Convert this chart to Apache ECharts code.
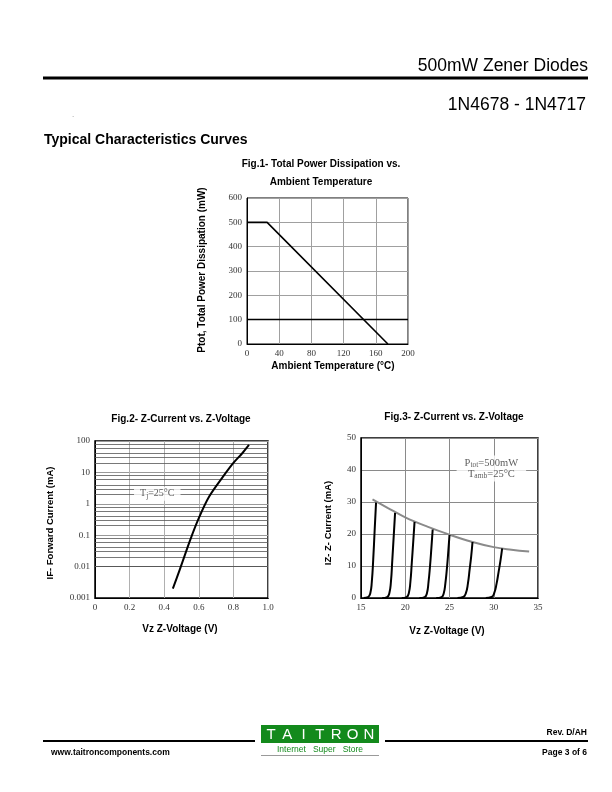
<!DOCTYPE html>
<html><head><meta charset="utf-8">
<script src="https://cdn.jsdelivr.net/npm/echarts@6/dist/echarts.min.js"></script>
<style>html,body{margin:0;padding:0;background:#fff}#c{width:612px;height:792px}</style>
</head><body><div id="c"></div>
<script>
// ---------- Fig.1 data ----------
const fig1Temp = [0, 25, 175];
const fig1Power = [500, 500, 0];
const fig1Limit = [100];
const fig1XTicks = ['0', '40', '80', '120', '160', '200'];
const fig1YTicks = ['0', '100', '200', '300', '400', '500', '600'];
// ---------- Fig.2 data ----------
const fig2Voltage = [0.45, 0.49, 0.55, 0.60, 0.66, 0.74, 0.80, 0.85, 0.89];
const fig2Current = [0.002, 0.008, 0.07, 0.35, 1.7, 7.3, 20, 40, 75];
const fig2XTicks = ['0', '0.2', '0.4', '0.6', '0.8', '1.0'];
const fig2YTicks = ['0.001', '0.01', '0.1', '1', '10', '100'];
const fig2Decades = [0.001, 0.01, 0.1, 1, 10];
const fig2MinorSteps = [2, 3, 4, 6, 8];
const fig2Note = [0.36, 2.1];
// ---------- Fig.3 data ----------
const fig3EnvV = [16.3, 18, 20, 22.5, 25, 27.5, 30, 32, 34];
const fig3EnvI = [30.8, 28.2, 25.2, 22.3, 19.8, 17.6, 15.9, 15.1, 14.5];
const fig3CurveV = [
  [15.3, 15.8, 16.05, 16.22, 16.38, 16.54, 16.7],
  [17.4, 17.95, 18.2, 18.38, 18.54, 18.7, 18.85],
  [19.6, 20.15, 20.4, 20.58, 20.74, 20.9, 21.05],
  [21.6, 22.2, 22.45, 22.63, 22.8, 22.95, 23.1],
  [23.5, 24.1, 24.35, 24.53, 24.7, 24.85, 25.0],
  [25.9, 26.55, 26.85, 27.08, 27.28, 27.45, 27.6],
  [29.1, 29.75, 30.05, 30.32, 30.54, 30.75, 30.95]
];
const fig3CurveI = [
  [0, 0.3, 1.5, 5, 12, 21, 29.8],
  [0, 0.3, 1.5, 5, 12, 19.5, 26.6],
  [0, 0.3, 1.5, 5, 11, 17.5, 23.8],
  [0, 0.3, 1.5, 5, 10, 15.5, 21.4],
  [0, 0.3, 1.5, 4.5, 9, 14, 19.7],
  [0, 0.3, 1.5, 4.5, 9, 13, 17.5],
  [0, 0.3, 1.5, 4.5, 8, 11.5, 15.5]
];
const fig3XTicks = ['15', '20', '25', '30', '35'];
const fig3YTicks = ['0', '10', '20', '30', '40', '50'];
const fig3Note = [29.73, 40.5];

const zip = (a, b) => a.map((v, i) => [v, b[i]]);
const SANS = 'Liberation Sans';
const SERIF = 'Liberation Serif';

function axisLabel(ticks, margin) {
  return { fontFamily: SERIF, fontSize: 9, color: '#333', margin: margin,
           formatter: (v, i) => ticks[i] };
}
function valueAxis(grid, min, max, interval, ticks, splitColor) {
  return {
    gridIndex: grid, type: 'value', min: min, max: max, interval: interval,
    axisLine: { show: true, lineStyle: { color: '#000', width: 1 } },
    axisTick: { show: false },
    splitLine: { show: true, lineStyle: { color: splitColor, width: 1 } },
    axisLabel: axisLabel(ticks, 5)
  };
}

const minorLines = [];
fig2Decades.forEach(d => fig2MinorSteps.forEach(s => minorLines.push({ yAxis: d * s })));

const series = [];
// Fig.1
series.push({
  type: 'line', xAxisIndex: 0, yAxisIndex: 0, data: zip(fig1Temp, fig1Power),
  symbol: 'none', lineStyle: { color: '#000', width: 1.6 }, z: 5,
  markLine: { silent: true, symbol: ['none', 'none'], label: { show: false },
    lineStyle: { color: '#000', type: 'solid', width: 1.3 },
    data: fig1Limit.map(v => ({ yAxis: v })) }
});
// Fig.2
series.push({
  type: 'line', xAxisIndex: 1, yAxisIndex: 1, data: zip(fig2Voltage, fig2Current),
  symbol: 'none', smooth: 0.3, lineStyle: { color: '#000', width: 2 }, z: 5,
  markLine: { silent: true, symbol: ['none', 'none'], label: { show: false },
    lineStyle: { color: '#555', type: 'solid', width: 0.8 }, z: 1,
    data: minorLines }
});
series.push({
  type: 'scatter', xAxisIndex: 1, yAxisIndex: 1, data: [fig2Note],
  symbolSize: 1, itemStyle: { color: 'rgba(0,0,0,0)' }, z: 10, silent: true,
  label: { show: true, position: 'inside', backgroundColor: '#fff', padding: [1, 6, 1, 6],
    formatter: 'T{s|j}{a|=25°C}',
    fontFamily: SERIF, fontSize: 10, color: '#333',
    rich: { a: { fontFamily: SERIF, fontSize: 10, color: '#333' },
            s: { fontFamily: SERIF, fontSize: 7.5, color: '#333', padding: [4, 0, 0, 0] } } }
});
// Fig.3
series.push({
  type: 'line', xAxisIndex: 2, yAxisIndex: 2, data: zip(fig3EnvV, fig3EnvI),
  symbol: 'none', smooth: 0.4, lineStyle: { color: '#8a8a8a', width: 2 }, z: 4
});
fig3CurveV.forEach((vs, k) => {
  series.push({
    type: 'line', xAxisIndex: 2, yAxisIndex: 2, data: zip(vs, fig3CurveI[k]),
    symbol: 'none', smooth: 0.5, lineStyle: { color: '#000', width: 2 }, z: 5
  });
});
series.push({
  type: 'scatter', xAxisIndex: 2, yAxisIndex: 2, data: [fig3Note],
  symbolSize: 1, itemStyle: { color: 'rgba(0,0,0,0)' }, z: 10, silent: true,
  label: { show: true, position: 'inside', backgroundColor: '#fff', padding: [2, 8, 2, 8],
    formatter: '{a|P}{s|tot}{a|=500mW}\n{a|T}{s|amb}{a|=25°C}',
    lineHeight: 11,
    rich: { a: { fontFamily: SERIF, fontSize: 10.5, color: '#333', lineHeight: 11 },
            s: { fontFamily: SERIF, fontSize: 7.5, color: '#333', padding: [4, 0, 0, 0], lineHeight: 11 } } }
});

function txt(x, y, text, size, weight, opts) {
  return Object.assign({ type: 'text', x: x, y: y, silent: true,
    style: { text: text, fontFamily: SANS, fontSize: size, fontWeight: weight || 'normal',
             fill: '#000', align: 'center', verticalAlign: 'middle' } }, opts || {});
}
function hline(x1, x2, y, w, color) {
  return { type: 'line', silent: true, shape: { x1: x1, y1: y, x2: x2, y2: y },
           style: { stroke: color || '#000', lineWidth: w } };
}
function alignRight(el) { el.style.align = 'right'; return el; }
function alignLeft(el) { el.style.align = 'left'; return el; }

const logoLetters = ['T', 'A', 'I', 'T', 'R', 'O', 'N'];
const graphics = [
  alignRight(txt(588, 66, '500mW Zener Diodes', 17.5)),
  hline(43, 588, 78, 3),
  alignRight(txt(586, 105, '1N4678 - 1N4717', 17.5)),
  txt(73, 115, '.', 6),
  alignLeft(txt(44, 140, 'Typical Characteristics Curves', 14, 'bold')),
  // Fig.1 texts
  txt(321, 164, 'Fig.1- Total Power Dissipation vs.', 10, 'bold'),
  txt(321, 182, 'Ambient Temperature', 10, 'bold'),
  txt(333, 366, 'Ambient Temperature (°C)', 10, 'bold'),
  txt(202, 270, 'Ptot, Total Power Dissipation (mW)', 10, 'bold', { rotation: Math.PI / 2 }),
  // Fig.2 texts
  txt(181, 419, 'Fig.2- Z-Current vs. Z-Voltage', 10, 'bold'),
  txt(180, 629, 'Vz Z-Voltage (V)', 10, 'bold'),
  txt(50, 523, 'IF- Forward Current (mA)', 9.5, 'bold', { rotation: Math.PI / 2 }),
  // Fig.3 texts
  txt(454, 417, 'Fig.3- Z-Current vs. Z-Voltage', 10, 'bold'),
  txt(447, 631, 'Vz Z-Voltage (V)', 10, 'bold'),
  txt(328, 523, 'IZ- Z- Current (mA)', 9.5, 'bold', { rotation: Math.PI / 2 }),
  // footer
  hline(43, 255, 741, 2.2),
  hline(385, 588, 741, 2.2),
  alignRight(txt(587, 733, 'Rev. D/AH', 8.5, 'bold')),
  alignLeft(txt(51, 753, 'www.taitroncomponents.com', 8.5, 'bold')),
  alignRight(txt(587, 753, 'Page 3 of 6', 8.5, 'bold')),
  { type: 'rect', silent: true, shape: { x: 261, y: 725, width: 118, height: 18 }, style: { fill: '#138a1c' } },
  hline(261, 379, 755.5, 1, '#9a9a9a'),
  txt(320, 749.5, 'Internet   Super   Store', 8.5, 'normal', { style: { text: 'Internet   Super   Store', fontFamily: SANS, fontSize: 8.5, fill: '#138a1c', align: 'center', verticalAlign: 'middle' } })
];
logoLetters.forEach((ch, i) => {
  graphics.push(txt(271 + i * 16.3, 734.5, ch, 15, 'normal', { style: { text: ch, fontFamily: SANS, fontSize: 15, fill: '#fff', align: 'center', verticalAlign: 'middle' } }));
});

const chart = echarts.init(document.getElementById('c'), null, { renderer: 'canvas' });
chart.setOption({
  animation: false,
  backgroundColor: '#fff',
  grid: [
    { left: 247, top: 198, width: 161, height: 146, show: true, borderColor: '#000', borderWidth: 1, backgroundColor: '#fff' },
    { left: 95, top: 441, width: 173, height: 157, show: true, borderColor: '#000', borderWidth: 1.5, backgroundColor: '#fff' },
    { left: 361, top: 438, width: 177, height: 160, show: true, borderColor: '#000', borderWidth: 1.5, backgroundColor: '#fff' }
  ],
  xAxis: [
    valueAxis(0, 0, 200, 40, fig1XTicks, '#a0a0a0'),
    valueAxis(1, 0, 1, 0.2, fig2XTicks, '#b0b0b0'),
    valueAxis(2, 15, 35, 5, fig3XTicks, '#8a8a8a')
  ],
  yAxis: [
    valueAxis(0, 0, 600, 100, fig1YTicks, '#a0a0a0'),
    { gridIndex: 1, type: 'log', logBase: 10, min: 0.001, max: 100,
      axisLine: { show: true, lineStyle: { color: '#000', width: 1 } },
      axisTick: { show: false },
      splitLine: { show: true, lineStyle: { color: '#999', width: 1 } },
      axisLabel: axisLabel(fig2YTicks, 5) },
    valueAxis(2, 0, 50, 10, fig3YTicks, '#8a8a8a')
  ],
  series: series,
  graphic: graphics
});
</script>
</body></html>
